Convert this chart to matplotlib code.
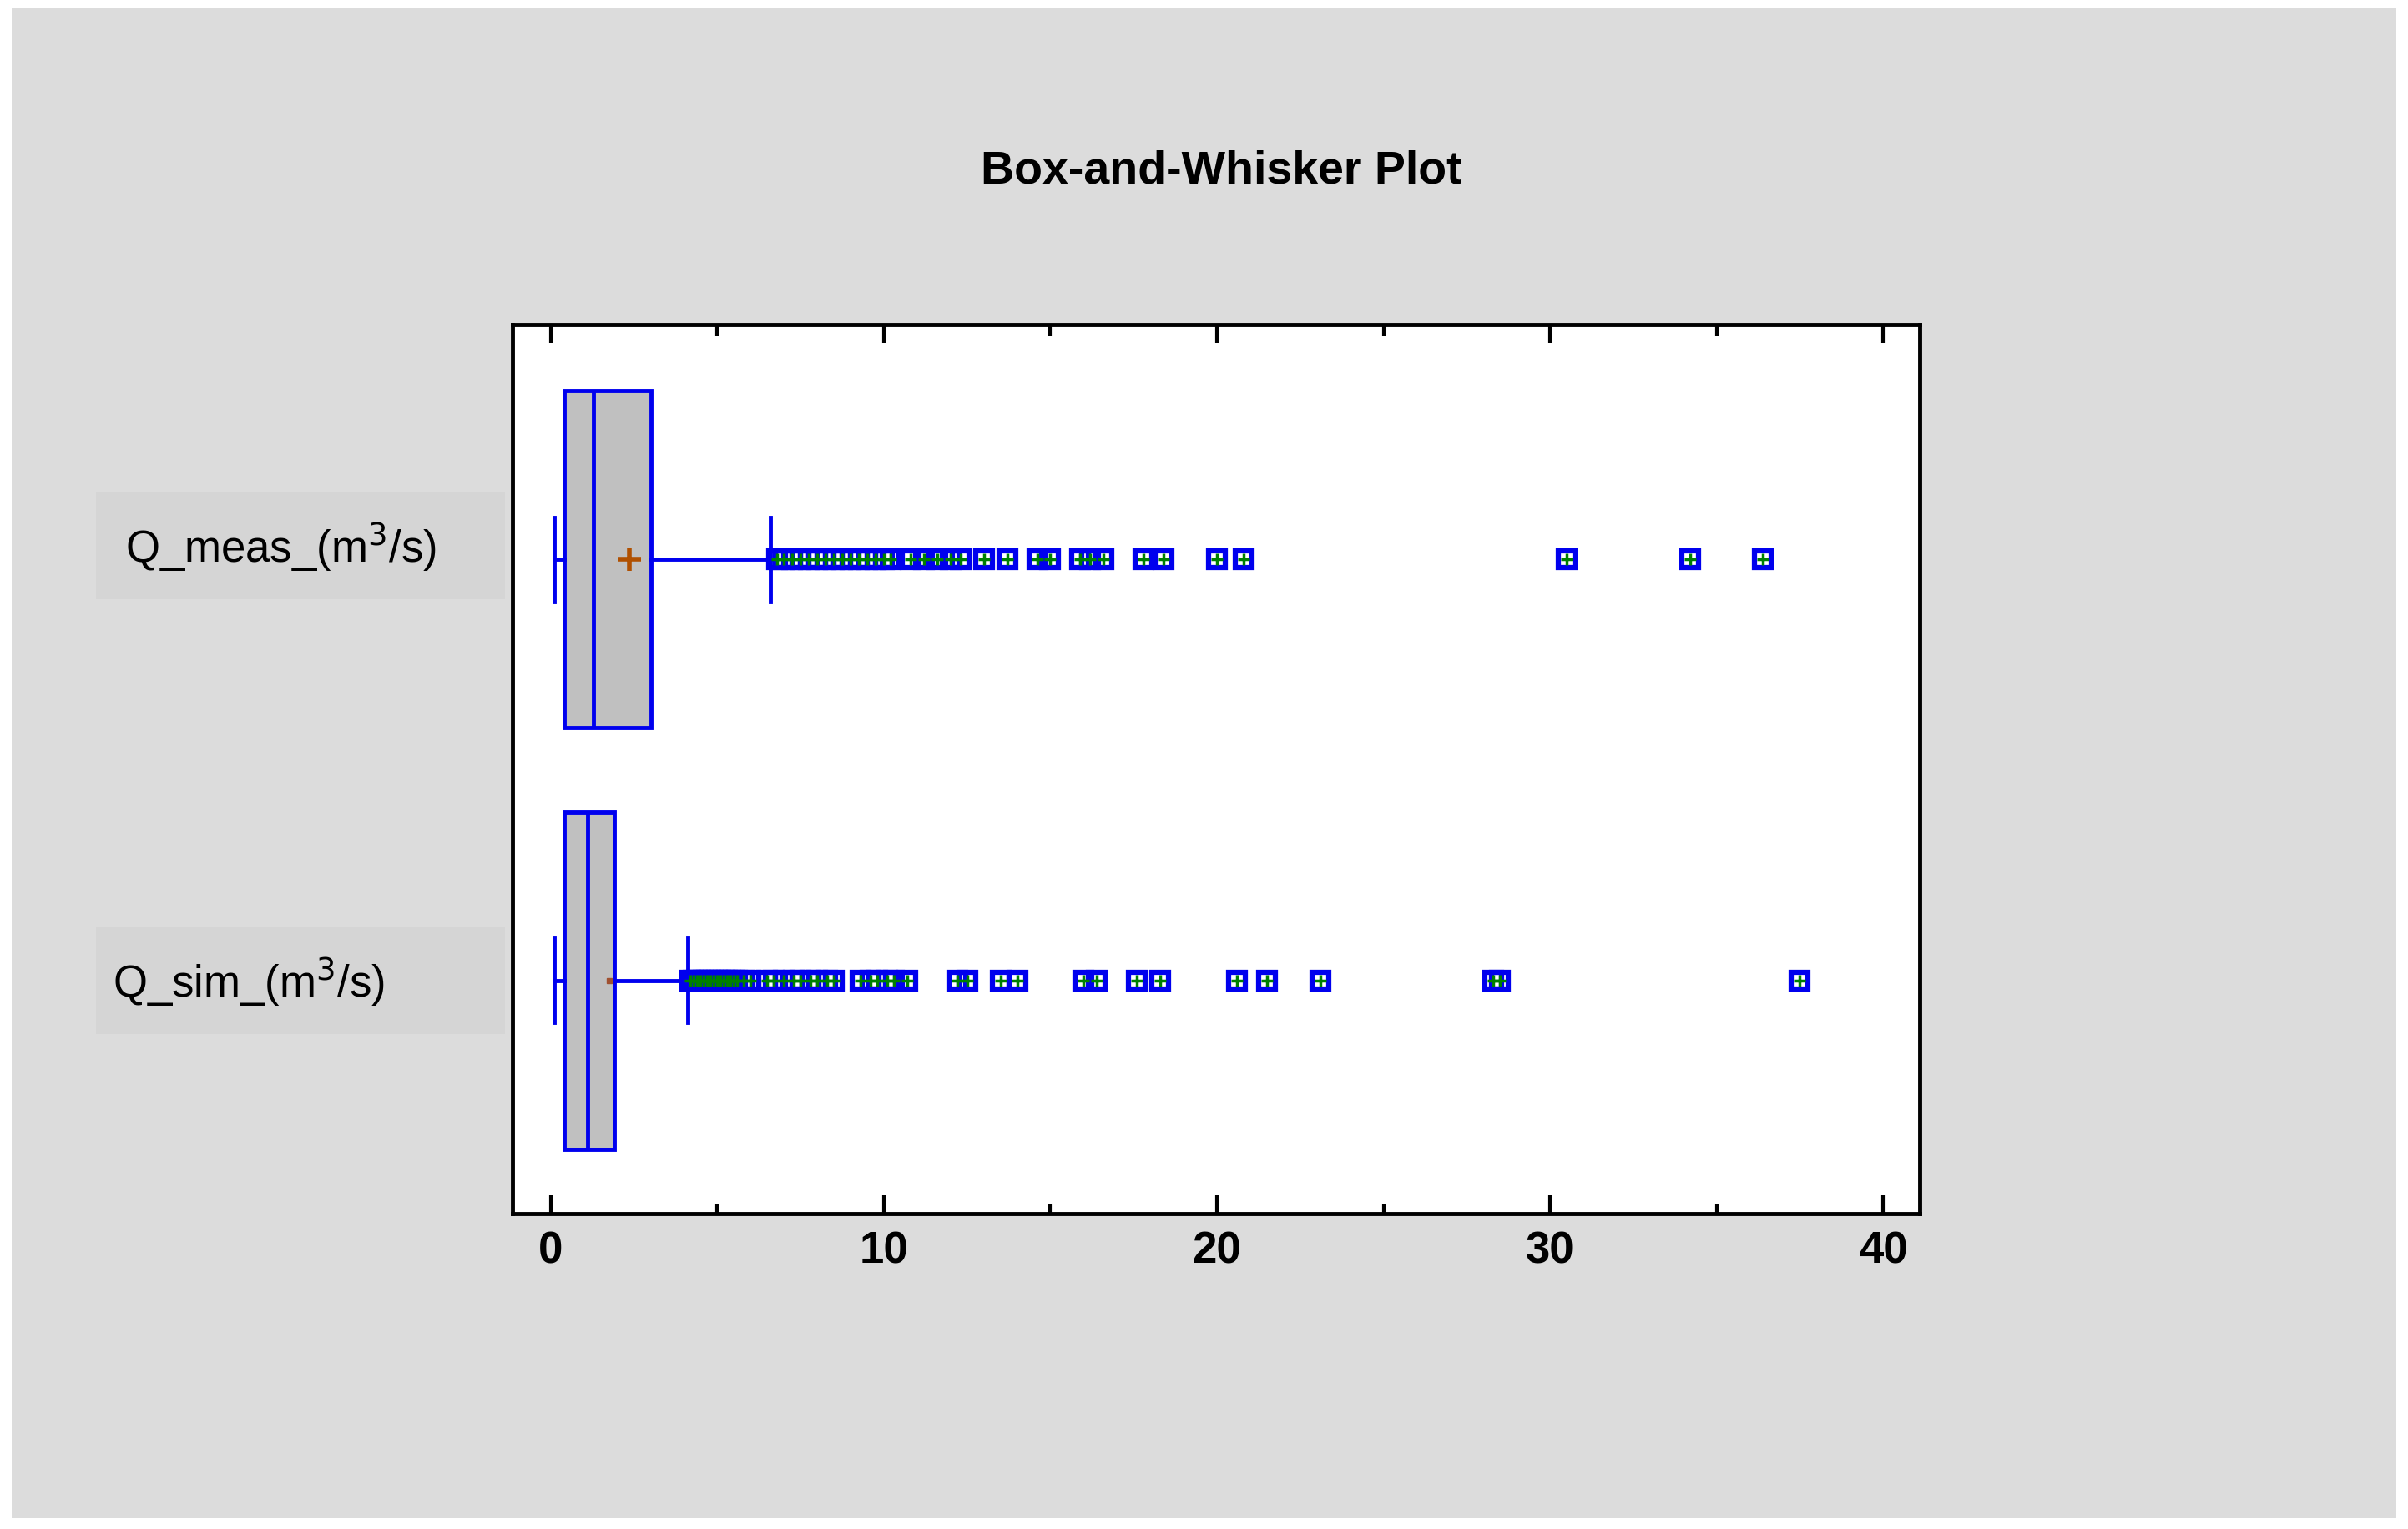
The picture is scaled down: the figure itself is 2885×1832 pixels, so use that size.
import matplotlib
matplotlib.use("Agg")
import matplotlib.pyplot as plt
from matplotlib.patches import Rectangle
from matplotlib.ticker import MultipleLocator

plt.rcParams['font.family'] = ['Liberation Sans', 'DejaVu Sans']

categories = ["Q_sim_(m$^3$/s)", "Q_meas_(m$^3$/s)"]
whislo = [0.1, 0.1]
q1 = [0.41, 0.41]
med = [1.1, 1.29]
q3 = [1.9, 3.0]
whishi = [4.1, 6.6]
means = [1.75, 2.35]
outliers_sim = [4.2, 4.3, 4.4, 4.5, 4.6, 4.7, 4.8, 4.9, 5.0, 5.1, 5.2, 5.3, 5.4, 5.5, 5.6, 5.8, 6.0,
                6.5, 6.7, 7.0, 7.3, 7.5, 7.8, 8.0, 8.3, 8.5, 9.3, 9.6, 9.8, 10.1, 10.3, 10.7,
                12.2, 12.5, 13.5, 14.0, 16.0, 16.4, 17.6, 18.3, 20.6, 21.5, 23.1, 28.3, 28.5, 37.5]
outliers_meas = [6.8, 7.0, 7.25, 7.5, 7.75, 8.0, 8.25, 8.5, 8.75, 9.0, 9.25, 9.5, 9.75, 10.0, 10.2,
                 10.8, 11.2, 11.6, 12.0, 12.3, 13.0, 13.7, 14.6, 15.0, 15.9, 16.2, 16.6,
                 17.8, 18.4, 20.0, 20.8, 30.5, 34.2, 36.4]
outliers = [outliers_sim, outliers_meas]
xticks = [0, 10, 20, 30, 40]

fig = plt.figure(figsize=(28.85, 18.33), dpi=100)
fig.patch.set_facecolor("white")
fig.add_artist(Rectangle((0.005, 0.007), 0.99, 0.987, transform=fig.transFigure,
                         facecolor="#dcdcdc", edgecolor="none", zorder=-10))
ax = fig.add_axes([614/2885, 1-1455/1833, (2300-614)/2885, (1455-390)/1833])
ax.set_facecolor("white")

stats = []
for i in range(2):
    stats.append(dict(whislo=whislo[i], q1=q1[i], med=med[i], q3=q3[i], whishi=whishi[i],
                      mean=means[i], fliers=[], label=categories[i]))
blue = "#0000ee"
ax.bxp(stats, positions=[0, 1], vert=False, widths=0.8, patch_artist=True, showmeans=False,
       boxprops=dict(facecolor="#c0c0c0", edgecolor=blue, linewidth=3.5),
       medianprops=dict(color=blue, linewidth=3.5),
       whiskerprops=dict(color=blue, linewidth=3.5),
       capprops=dict(color=blue, linewidth=3.5), capwidths=0.2)
for i in range(2):
    ax.plot(outliers[i], [i]*len(outliers[i]), ls="none", marker="s", ms=14,
            mfc="none", mec=blue, mew=4.5, zorder=5)
    ax.plot(outliers[i], [i]*len(outliers[i]), ls="none", marker="+", ms=10,
            mec="#008000", mew=2.5, zorder=6)
ax.plot([means[1]], [1], ls="none", marker="+", ms=20, mec="#b05000", mew=4, zorder=7)
ax.plot([means[0]], [0], ls="none", marker="s", ms=5, mfc="#a05030", mec="#a05030", zorder=7)

ax.set_xlim(-1.15, 41.1)
ax.set_ylim(-0.553, 1.557)
ax.set_yticks([])
ax.set_xticks(xticks)
ax.xaxis.set_minor_locator(MultipleLocator(5))
ax.tick_params(axis="x", which="both", direction="in", top=True, bottom=True,
               width=3, labelsize=38, pad=14)
ax.tick_params(axis="x", which="major", length=16)
ax.tick_params(axis="x", which="minor", length=9)
for lab in ax.get_xticklabels():
    lab.set_fontweight("bold")
for s in ax.spines.values():
    s.set_linewidth(3.5)

for i, ylab in enumerate(categories):
    yc = 1 - (1176 if i == 0 else 655) / 1833
    fig.add_artist(Rectangle((115/2885, yc-0.035), (605-115)/2885, 0.07, transform=fig.transFigure,
                             facecolor="#d0d0d0", edgecolor="none", alpha=0.5))
    fig.text(150/2885 if i == 1 else 135/2885, yc, ylab, fontsize=38, va="center", ha="left")

fig.text(1463/2885, 1-205/1833, "Box-and-Whisker Plot", fontsize=40, fontweight="bold",
         ha="center", va="center")
fig.savefig("out.png", dpi=100)
